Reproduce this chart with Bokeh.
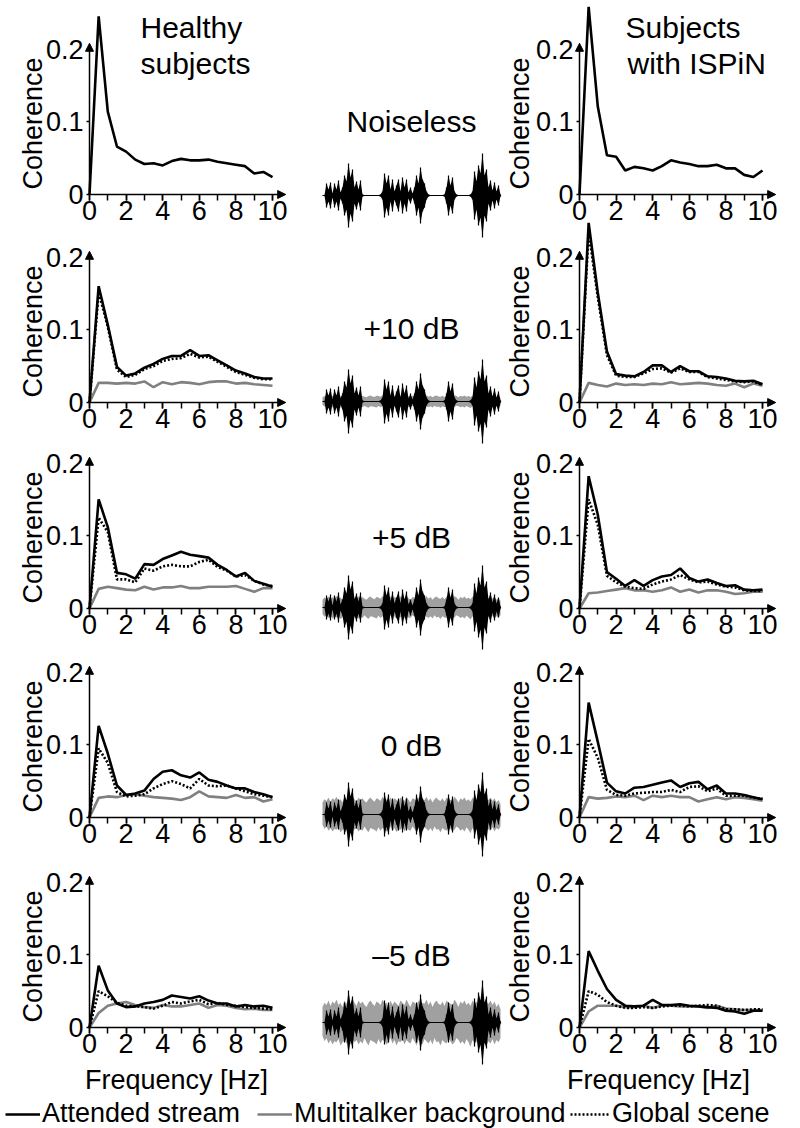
import math
from bokeh.plotting import figure
from bokeh.models import (Range1d, LinearAxis, SingleIntervalTicker, FixedTicker, Arrow,
                          NormalHead, Label, Legend, LegendItem)
from bokeh.core.properties import value
from bokeh.embed import file_html
from bokeh.resources import INLINE

# ---------------- data ----------------
freq = [0, 0.5, 1, 1.5, 2, 2.5, 3, 3.5, 4, 4.5, 5, 5.5, 6, 6.5, 7, 7.5, 8, 8.5, 9, 9.5, 10]

coh_ticks = [0, 0.1, 0.2]
coh_labels = ["0", "0.1", "0.2"]

conditions = ["Noiseless", "+10 dB", "+5 dB", "0 dB", "\u20135 dB"]

# Healthy subjects
hs_att_noiseless = [0, 0.245, 0.114, 0.066, 0.059, 0.048, 0.042, 0.043, 0.040, 0.046, 0.049,
                    0.047, 0.047, 0.048, 0.045, 0.043, 0.041, 0.039, 0.029, 0.031, 0.024]
hs_att_p10 = [0, 0.160, 0.107, 0.049, 0.037, 0.040, 0.048, 0.053, 0.060, 0.064, 0.064,
              0.072, 0.064, 0.065, 0.058, 0.051, 0.044, 0.040, 0.035, 0.033, 0.033]
hs_glob_p10 = [0, 0.152, 0.104, 0.045, 0.035, 0.038, 0.046, 0.050, 0.057, 0.060, 0.061,
               0.067, 0.062, 0.063, 0.056, 0.049, 0.042, 0.038, 0.034, 0.032, 0.032]
hs_bg_p10 = [0, 0.027, 0.027, 0.026, 0.027, 0.026, 0.029, 0.021, 0.028, 0.025, 0.028,
             0.027, 0.025, 0.028, 0.029, 0.029, 0.026, 0.027, 0.025, 0.024, 0.023]
hs_att_p5 = [0, 0.150, 0.112, 0.049, 0.047, 0.041, 0.061, 0.060, 0.068, 0.073, 0.078,
             0.074, 0.072, 0.070, 0.060, 0.053, 0.044, 0.049, 0.038, 0.034, 0.030]
hs_glob_p5 = [0, 0.125, 0.105, 0.040, 0.040, 0.036, 0.055, 0.052, 0.058, 0.060, 0.058,
              0.058, 0.064, 0.067, 0.057, 0.052, 0.044, 0.046, 0.038, 0.033, 0.031]
hs_bg_p5 = [0, 0.027, 0.030, 0.028, 0.026, 0.025, 0.030, 0.026, 0.029, 0.029, 0.031,
            0.028, 0.028, 0.030, 0.030, 0.030, 0.031, 0.027, 0.023, 0.028, 0.028]
hs_att_0 = [0, 0.126, 0.088, 0.044, 0.031, 0.033, 0.037, 0.053, 0.063, 0.065, 0.058,
            0.055, 0.062, 0.052, 0.049, 0.044, 0.040, 0.040, 0.035, 0.032, 0.028]
hs_glob_0 = [0, 0.095, 0.075, 0.035, 0.029, 0.030, 0.032, 0.040, 0.046, 0.050, 0.046,
             0.040, 0.053, 0.044, 0.043, 0.044, 0.040, 0.036, 0.032, 0.030, 0.028]
hs_bg_0 = [0, 0.027, 0.029, 0.028, 0.031, 0.032, 0.030, 0.028, 0.027, 0.026, 0.024,
           0.028, 0.036, 0.029, 0.028, 0.027, 0.031, 0.027, 0.028, 0.022, 0.025]
hs_att_m5 = [0, 0.085, 0.051, 0.033, 0.028, 0.029, 0.033, 0.035, 0.038, 0.044, 0.042,
             0.040, 0.043, 0.037, 0.033, 0.033, 0.029, 0.031, 0.029, 0.030, 0.027]
hs_glob_m5 = [0, 0.050, 0.043, 0.034, 0.030, 0.029, 0.028, 0.026, 0.030, 0.035, 0.033,
              0.036, 0.038, 0.032, 0.034, 0.031, 0.030, 0.028, 0.027, 0.026, 0.025]
hs_bg_m5 = [0, 0.020, 0.030, 0.033, 0.035, 0.031, 0.028, 0.027, 0.031, 0.029, 0.029,
            0.031, 0.033, 0.027, 0.031, 0.030, 0.027, 0.025, 0.026, 0.024, 0.024]

# Subjects with ISPiN
isp_att_noiseless = [0, 0.258, 0.121, 0.054, 0.052, 0.033, 0.038, 0.036, 0.033, 0.039, 0.047,
                     0.044, 0.042, 0.039, 0.039, 0.041, 0.036, 0.036, 0.027, 0.024, 0.033]
isp_att_p10 = [0, 0.247, 0.151, 0.070, 0.039, 0.037, 0.036, 0.042, 0.051, 0.051, 0.042,
               0.050, 0.043, 0.043, 0.036, 0.035, 0.033, 0.030, 0.029, 0.030, 0.025]
isp_glob_p10 = [0, 0.235, 0.145, 0.065, 0.037, 0.035, 0.035, 0.040, 0.046, 0.047, 0.041,
                0.047, 0.042, 0.042, 0.035, 0.033, 0.031, 0.029, 0.028, 0.029, 0.024]
isp_bg_p10 = [0, 0.027, 0.024, 0.022, 0.026, 0.024, 0.025, 0.024, 0.026, 0.025, 0.028,
              0.025, 0.026, 0.027, 0.026, 0.024, 0.023, 0.026, 0.021, 0.026, 0.023]
isp_att_p5 = [0, 0.182, 0.129, 0.050, 0.041, 0.031, 0.039, 0.031, 0.039, 0.044, 0.046,
              0.055, 0.042, 0.037, 0.040, 0.035, 0.031, 0.032, 0.026, 0.025, 0.026]
isp_glob_p5 = [0, 0.150, 0.115, 0.045, 0.036, 0.030, 0.028, 0.027, 0.033, 0.037, 0.040,
               0.046, 0.040, 0.036, 0.037, 0.033, 0.030, 0.029, 0.025, 0.024, 0.024]
isp_bg_p5 = [0, 0.021, 0.022, 0.024, 0.026, 0.028, 0.025, 0.025, 0.023, 0.025, 0.029,
             0.023, 0.026, 0.022, 0.025, 0.025, 0.023, 0.020, 0.021, 0.023, 0.023]
isp_att_0 = [0, 0.158, 0.104, 0.048, 0.036, 0.033, 0.041, 0.042, 0.045, 0.048, 0.051,
             0.042, 0.047, 0.049, 0.039, 0.044, 0.033, 0.033, 0.031, 0.028, 0.025]
isp_glob_0 = [0, 0.108, 0.082, 0.038, 0.031, 0.030, 0.033, 0.034, 0.035, 0.035, 0.038,
              0.035, 0.042, 0.043, 0.036, 0.040, 0.030, 0.030, 0.030, 0.027, 0.026]
isp_bg_0 = [0, 0.028, 0.026, 0.027, 0.029, 0.028, 0.030, 0.024, 0.030, 0.028, 0.030,
            0.028, 0.028, 0.022, 0.025, 0.028, 0.025, 0.028, 0.027, 0.025, 0.023]
isp_att_m5 = [0, 0.105, 0.078, 0.053, 0.038, 0.030, 0.029, 0.030, 0.038, 0.031, 0.031,
              0.032, 0.030, 0.029, 0.028, 0.027, 0.023, 0.022, 0.019, 0.023, 0.023]
isp_glob_m5 = [0, 0.050, 0.045, 0.035, 0.030, 0.027, 0.027, 0.028, 0.027, 0.029, 0.030,
               0.030, 0.029, 0.030, 0.031, 0.030, 0.025, 0.025, 0.024, 0.025, 0.025]
isp_bg_m5 = [0, 0.022, 0.030, 0.030, 0.030, 0.028, 0.028, 0.030, 0.027, 0.030, 0.030,
             0.029, 0.029, 0.029, 0.027, 0.030, 0.026, 0.025, 0.024, 0.024, 0.024]

# speech waveform envelope (arbitrary amplitude units) and multitalker noise
speech_env = [0, 0.5, 12, 6, 13, 2, 12, 6, 15, 3, 8, 20, 14, 32, 18, 26, 8, 14, 6, 15,
              1, 0.5, 0.5, 0.5, 0.5, 0.5, 0.5, 0.5, 0.5, 1, 4, 22, 12, 20, 6, 16, 4, 10, 16, 4,
              18, 8, 16, 3, 8, 2, 8, 20, 12, 28, 16, 12, 4, 1, 0.5, 0.5, 0.5, 0.5, 0.5, 0.5,
              0.5, 1, 8, 20, 10, 18, 4, 1, 0.5, 0.5, 0.5, 0.5, 0.5, 0.5, 1, 4, 24, 14, 30, 22,
              42, 20, 26, 8, 15, 5, 13, 4, 10, 1]
noise_env = [0.7, 0.9, 0.8, 1.0, 0.75, 0.95, 0.85, 1.05, 0.8, 0.9, 0.7, 1.0, 0.85, 0.95, 0.8,
             1.1, 0.9, 0.75, 1.0, 0.85, 0.95, 0.8, 0.7, 0.9, 1.0, 0.85, 0.75, 0.95, 0.9, 0.8,
             1.05, 0.85, 0.9, 0.7, 1.0, 0.8, 0.95, 0.85, 0.75, 1.0, 0.9, 0.8, 1.05, 0.85, 0.7,
             0.95, 0.9, 0.8, 1.0, 0.75, 0.9, 0.85, 1.05, 0.8, 0.95, 0.7, 0.9, 1.0, 0.85, 0.8,
             0.95, 0.75, 1.0, 0.9, 0.85, 0.8, 1.05, 0.9, 0.7, 0.95, 0.85, 1.0, 0.8, 0.9, 0.75,
             1.0, 0.85, 0.95, 0.8, 0.9, 1.05, 0.75, 0.9, 0.85, 1.0, 0.8, 0.95, 0.7, 0.85, 0.6]
noise_level = [0, 6, 11, 17, 22]

healthy = [(hs_att_noiseless, None, None), (hs_att_p10, hs_glob_p10, hs_bg_p10),
           (hs_att_p5, hs_glob_p5, hs_bg_p5), (hs_att_0, hs_glob_0, hs_bg_0),
           (hs_att_m5, hs_glob_m5, hs_bg_m5)]
ispin = [(isp_att_noiseless, None, None), (isp_att_p10, isp_glob_p10, isp_bg_p10),
         (isp_att_p5, isp_glob_p5, isp_bg_p5), (isp_att_0, isp_glob_0, isp_bg_0),
         (isp_att_m5, isp_glob_m5, isp_bg_m5)]

# ---------------- layout constants (page pixels) ----------------
FONT = "Liberation Sans"
W, H = 800, 1128
def fx(x):
    return x
def fy(y):
    return H - y

HZ_PX = 18.3
COH_PX = 727.0
col_x0 = {"L": 89, "R": 579}
row_y0 = [194, 402, 608, 817, 1027]
wave_x0 = 322
wave_dx = 2.0
wave_y0 = [195, 401, 607, 814, 1022]
BLACK = "black"
GRAY = "#808080"
NOISE = "#a0a0a0"

p = figure(width=W, height=H, x_range=Range1d(0, W), y_range=Range1d(0, H),
           x_axis_location=None, y_axis_location=None, toolbar_location=None,
           output_backend="svg", min_border=0, outline_line_color=None)
p.grid.visible = False
p.title.visible = False

xr = {}
for name, x0 in col_x0.items():
    xr[name] = Range1d(-fx(x0) / HZ_PX, (W - fx(x0)) / HZ_PX)
xr["W"] = Range1d(-fx(wave_x0) / wave_dx, (W - fx(wave_x0)) / wave_dx)
yr = {}
for k, y0 in enumerate(row_y0):
    yr[f"r{k}"] = Range1d(-fy(y0) / COH_PX, (H - fy(y0)) / COH_PX)
for k, y0 in enumerate(wave_y0):
    yr[f"w{k}"] = Range1d(-fy(y0), H - fy(y0))
p.extra_x_ranges = xr
p.extra_y_ranges = yr

legend_refs = {}

def panel(col, k, att, glob, bg):
    xn, yn = col, f"r{k}"
    kw = dict(x_range_name=xn, y_range_name=yn)
    if bg is not None:
        r = p.line(freq, bg, line_color=GRAY, line_width=2.6, **kw)
        legend_refs.setdefault("bg", r)
    r = p.line(freq, att, line_color=BLACK, line_width=2.6, **kw)
    legend_refs.setdefault("att", r)
    if glob is not None:
        r = p.line(freq, glob, line_color=BLACK, line_width=2.6, line_dash="2 2", **kw)
        legend_refs.setdefault("glob", r)
    xa = LinearAxis(fixed_location=0, bounds=(0, 10),
                    ticker=SingleIntervalTicker(interval=2, num_minor_ticks=2),
                    axis_line_color=None, major_tick_in=0, major_tick_out=6,
                    minor_tick_in=0, minor_tick_out=6, major_tick_line_width=1.5,
                    minor_tick_line_width=1.5, major_label_text_font=FONT,
                    major_label_text_font_size="27px", major_label_standoff=0,
                    major_label_text_color="black", **kw)
    p.add_layout(xa, "below")
    ya = LinearAxis(fixed_location=0, bounds=(0, 0.2),
                    ticker=FixedTicker(ticks=coh_ticks, minor_ticks=[]),
                    major_label_overrides=dict(zip(coh_ticks, coh_labels)),
                    axis_line_color=None, major_tick_in=0, major_tick_out=3,
                    major_tick_line_width=1.5, major_label_text_font=FONT,
                    major_label_text_font_size="27px", major_label_standoff=3,
                    major_label_text_color="black", **kw)
    p.add_layout(ya, "left")
    p.add_layout(Arrow(x_start=0, y_start=0, x_end=10.72, y_end=0, line_width=1.5,
                       end=NormalHead(size=8, fill_color=BLACK, line_color=BLACK, line_width=1),
                       **kw))
    p.add_layout(Arrow(x_start=0, y_start=0, x_end=0, y_end=0.208, line_width=1.5,
                       end=NormalHead(size=8, fill_color=BLACK, line_color=BLACK, line_width=1),
                       **kw))
    lab_x = 32 if col == "L" else 519
    p.add_layout(Label(x=fx(lab_x), y=fy(row_y0[k] - 71), text="Coherence", angle=math.pi / 2,
                       text_align="center", text_baseline="middle", text_font=FONT,
                       text_font_size="27px", text_color="black"))

for k in range(5):
    panel("L", k, *healthy[k])
    panel("R", k, *ispin[k])

# waveforms
idx = list(range(len(speech_env)))
sp_lo = [-a for a in speech_env]
for k in range(5):
    kw = dict(x_range_name="W", y_range_name=f"w{k}")
    if noise_level[k] > 0:
        n_hi = [noise_level[k] * e for e in noise_env]
        n_lo = [-noise_level[k] * e for e in reversed(noise_env)]
        p.varea(x=idx, y1=n_lo, y2=n_hi, fill_color=NOISE, **kw)
    p.line(x=[idx[0], idx[-1]], y=[0, 0], line_color=BLACK, line_width=1.2, **kw)
    p.varea(x=idx, y1=sp_lo, y2=speech_env, fill_color=BLACK, **kw)
    p.segment(x0=idx, y0=sp_lo, x1=idx, y1=speech_env, line_color=BLACK, line_width=1.2, **kw)

# condition labels
cond_y = [121, 328, 537, 745, 955]
for k, t in enumerate(conditions):
    p.add_layout(Label(x=fx(411), y=fy(cond_y[k]), text=t, text_align="center",
                       text_baseline="middle", text_font=FONT, text_font_size="30px",
                       text_color="black"))

# column titles
for t, x, y in [("Healthy", 140, 27), ("subjects", 140, 63),
                ("Subjects", 625, 27), ("with ISPiN", 627, 63)]:
    p.add_layout(Label(x=fx(x), y=fy(y), text=t, text_align="left", text_baseline="alphabetic",
                       text_font=FONT, text_font_size="30px", text_color="black"))

# x axis titles
for x in [176, 658]:
    p.add_layout(Label(x=fx(x), y=fy(1079), text="Frequency [Hz]", text_align="center",
                       text_baseline="alphabetic", text_font=FONT, text_font_size="27px",
                       text_color="black"))

# legend
for key, txt, gx, gw in [("att", "Attended stream", 5, 35),
                         ("bg", "Multitalker background", 257, 35),
                         ("glob", "Global scene", 570, 40)]:
    lg = Legend(items=[LegendItem(label=value(txt), renderers=[legend_refs[key]])],
                location=(fx(gx), fy(1114) - 15), orientation="horizontal", padding=0,
                margin=0, spacing=0, glyph_width=gw, glyph_height=20, label_height=20,
                label_standoff=2, label_text_font=FONT, label_text_font_size="27px",
                label_text_color="black", border_line_color=None, background_fill_alpha=0)
    p.add_layout(lg, "center")

open("out.html", "w").write(file_html(p, INLINE))
